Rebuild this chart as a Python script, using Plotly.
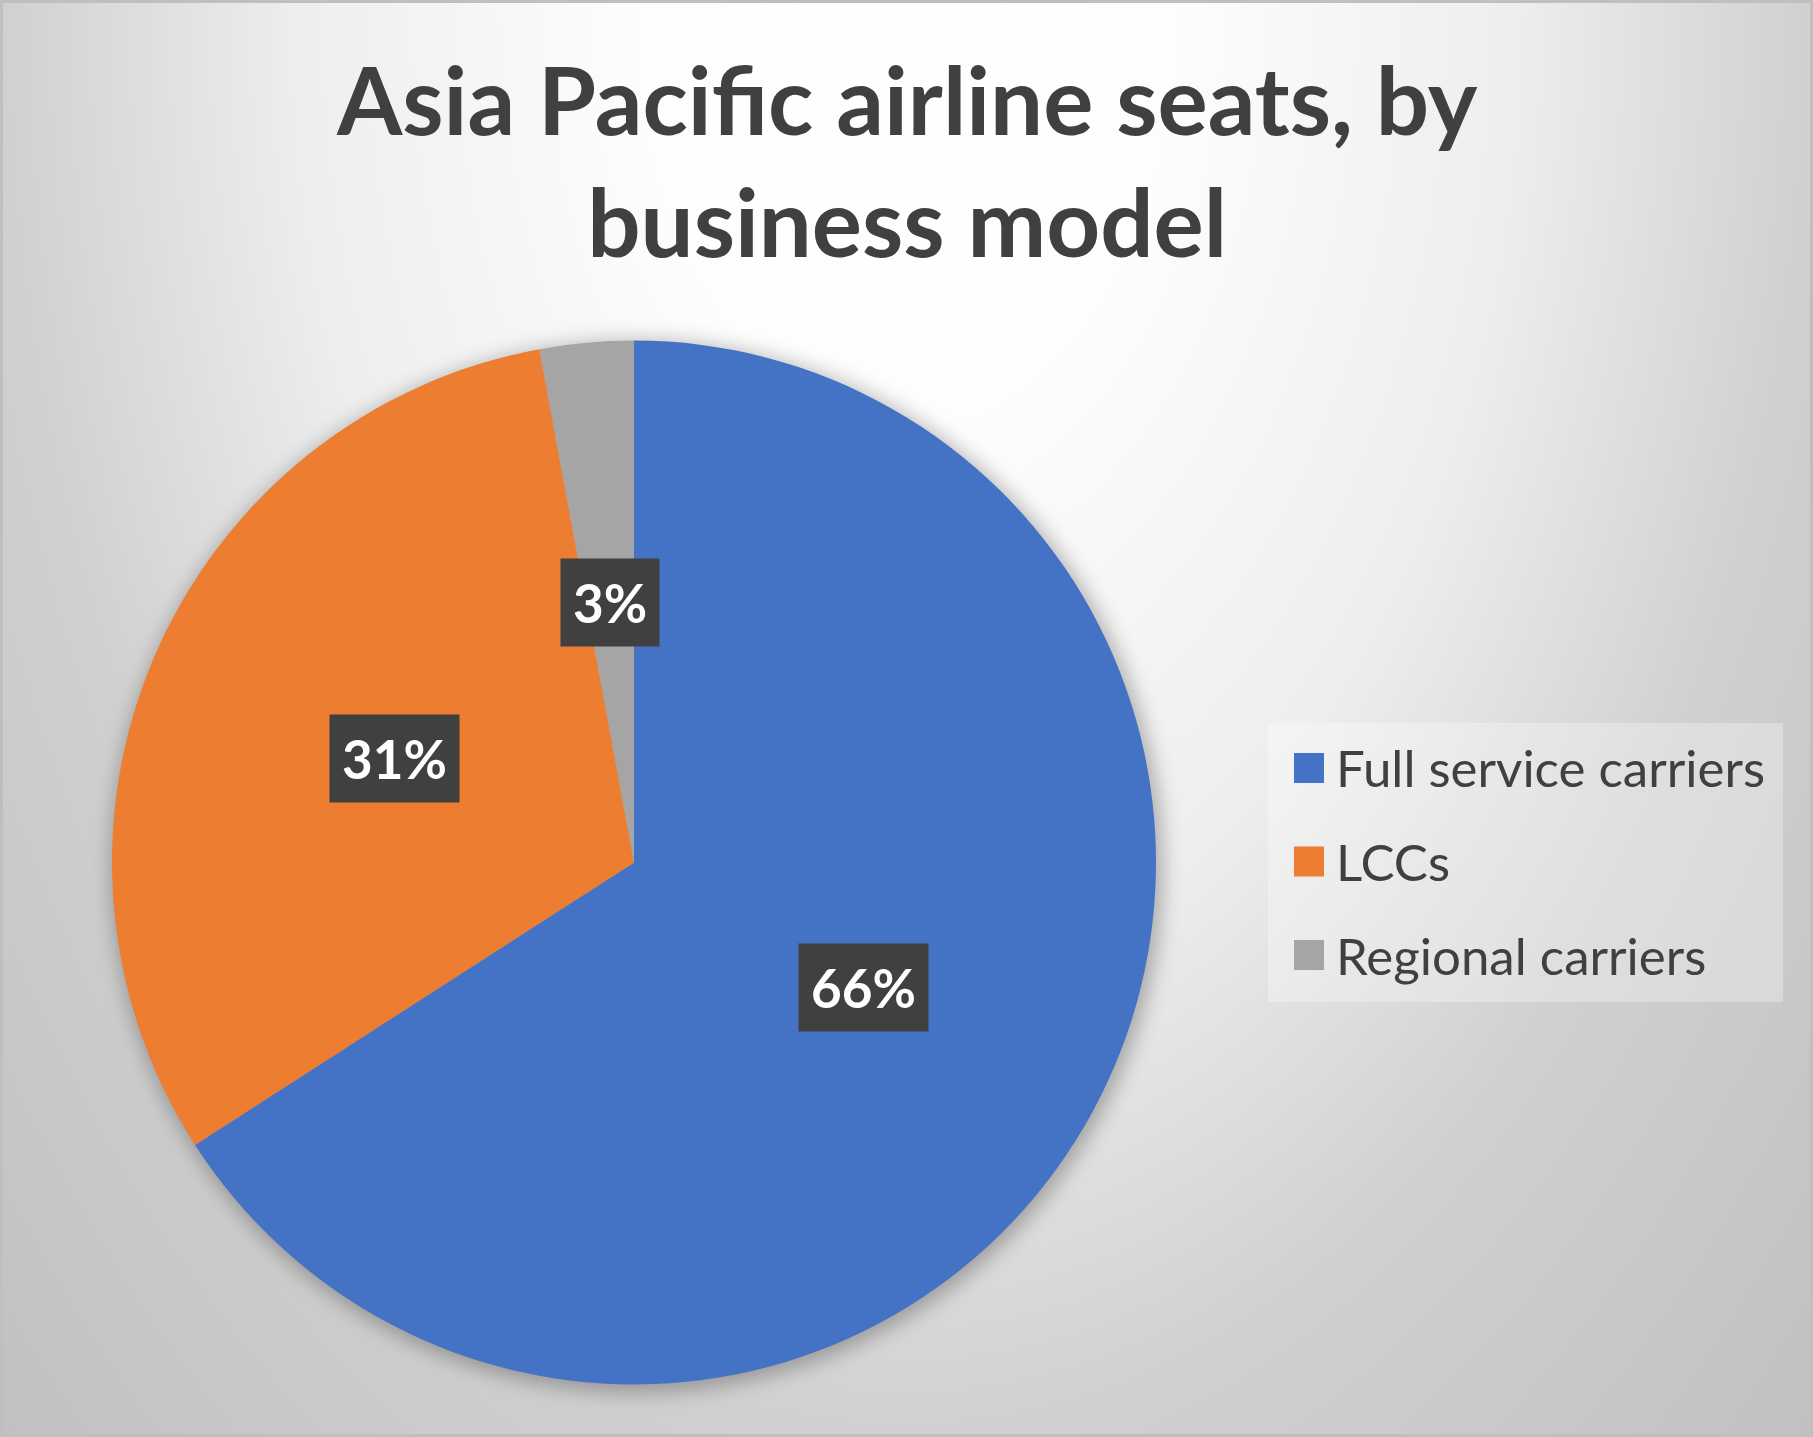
import math
import base64
import plotly.graph_objects as go

# ---------------- data ----------------
CATEGORIES = ["Full service carriers", "LCCs", "Regional carriers"]
SHARES = [65.9, 31.2, 2.9]
COLORS = ["#4472C4", "#ED7D31", "#A5A5A5"]
TITLE_LINES = ["Asia Pacific airline seats, by", "business model"]

# ---------------- layout constants ----------------
W, H = 1813, 1437
PIE_X = [0.0618, 0.6376]
PIE_Y = [0.0365, 0.7631]
FONT = "Lato, Carlito, Calibri, 'Open Sans', sans-serif"
TEXT_COLOR = "#404040"

cx = (PIE_X[0] + PIE_X[1]) / 2 * W
cy = (1 - (PIE_Y[0] + PIE_Y[1]) / 2) * H
R = min((PIE_X[1] - PIE_X[0]) * W, (PIE_Y[1] - PIE_Y[0]) * H) / 2

# background: radial gradient + soft pie shadow + border
svg = f'''<svg xmlns="http://www.w3.org/2000/svg" width="{W}" height="{H}" viewBox="0 0 {W} {H}">
<defs>
<radialGradient id="g" gradientUnits="userSpaceOnUse" cx="{W/2}" cy="0" r="{W/2*1.45}"
 gradientTransform="translate({W/2} 0) scale(1 {2*H/W}) translate({-W/2} 0)">
<stop offset="0" stop-color="#ffffff"/>
<stop offset="0.207" stop-color="#fdfdfd"/>
<stop offset="0.462" stop-color="#eeeeee"/>
<stop offset="0.69" stop-color="#d0d0d0"/>
<stop offset="1" stop-color="#bfbfbf"/>
</radialGradient>
<filter id="b" x="-20%" y="-20%" width="140%" height="140%"><feGaussianBlur stdDeviation="10"/></filter>
</defs>
<rect x="0" y="0" width="{W}" height="{H}" fill="url(#g)"/>
<circle cx="{cx+3}" cy="{cy+4}" r="{R+4}" fill="#000000" fill-opacity="0.28" filter="url(#b)"/>
<rect x="1.5" y="1.5" width="{W-3}" height="{H-3}" fill="none" stroke="#bfbfbf" stroke-width="3"/>
</svg>'''
bg_uri = "data:image/svg+xml;base64," + base64.b64encode(svg.encode()).decode()

fig = go.Figure()
fig.add_trace(go.Pie(
    labels=CATEGORIES,
    values=SHARES,
    marker=dict(colors=COLORS, line=dict(width=0)),
    sort=False,
    direction="clockwise",
    rotation=0,
    textinfo="none",
    hoverinfo="label+percent",
    showlegend=False,
    domain=dict(x=PIE_X, y=PIE_Y),
))

annotations = []

# title
annotations.append(dict(
    x=0.5, y=1 - 160 / H, xref="paper", yref="paper", showarrow=False,
    xanchor="center", yanchor="middle",
    text="<b>" + "<br>".join(TITLE_LINES) + "</b>",
    font=dict(family=FONT, size=94, color=TEXT_COLOR),
))

# data labels (dark boxes) placed at half radius along each slice's mid-angle
total = sum(SHARES)
cum = 0.0
for v in SHARES:
    mid = (cum + v / 2) / total * 2 * math.pi
    cum += v
    px = cx + 0.5 * R * math.sin(mid)
    py = cy - 0.5 * R * math.cos(mid)
    annotations.append(dict(
        x=px / W, y=1 - py / H, xref="paper", yref="paper", showarrow=False,
        xanchor="center", yanchor="middle",
        text=f"<b>{round(v / total * 100)}%</b>", borderpad=12,
        font=dict(family=FONT, size=53, color="#ffffff"),
        bgcolor="#404040",
    ))

# legend (box, colour squares, labels)
LEG_BOX = (1268, 723, 1783, 1002)
LEG_Y0, LEG_DY = 768, 93.5
SQ = 30
SQ_X = 1294
TXT_X = 1334
shapes = [dict(
    type="rect", xref="paper", yref="paper",
    x0=LEG_BOX[0] / W, x1=LEG_BOX[2] / W, y0=1 - LEG_BOX[3] / H, y1=1 - LEG_BOX[1] / H,
    fillcolor="rgba(255,255,255,0.3)", line=dict(width=0), layer="below",
)]
for i, (name, col) in enumerate(zip(CATEGORIES, COLORS)):
    yc = LEG_Y0 + i * LEG_DY
    shapes.append(dict(
        type="rect", xref="paper", yref="paper",
        x0=SQ_X / W, x1=(SQ_X + SQ) / W, y0=1 - (yc + SQ / 2) / H, y1=1 - (yc - SQ / 2) / H,
        fillcolor=col, line=dict(width=0),
    ))
    annotations.append(dict(
        x=TXT_X / W, y=1 - yc / H, xref="paper", yref="paper", showarrow=False,
        xanchor="left", yanchor="middle", text=name,
        font=dict(family=FONT, size=51, color=TEXT_COLOR),
    ))

fig.update_layout(
    width=W, height=H,
    margin=dict(l=0, r=0, t=0, b=0),
    paper_bgcolor="#dcdcdc",
    plot_bgcolor="rgba(0,0,0,0)",
    images=[dict(
        source=bg_uri, xref="paper", yref="paper", x=0, y=1, sizex=1, sizey=1,
        xanchor="left", yanchor="top", sizing="stretch", layer="below",
    )],
    shapes=shapes,
    annotations=annotations,
)

fig.write_html(
    "out.html",
    config={"displayModeBar": False},
    post_script="document.body.style.margin='0';document.body.style.overflow='hidden';",
)
